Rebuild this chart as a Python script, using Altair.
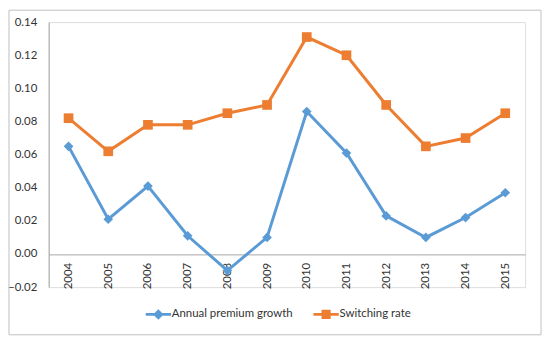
import altair as alt
import pandas as pd

years = ["2004", "2005", "2006", "2007", "2008", "2009", "2010", "2011", "2012", "2013", "2014", "2015"]
premium_growth = [0.065, 0.021, 0.041, 0.011, -0.010, 0.010, 0.086, 0.061, 0.023, 0.010, 0.022, 0.037]
switching_rate = [0.082, 0.062, 0.078, 0.078, 0.085, 0.090, 0.131, 0.120, 0.090, 0.065, 0.070, 0.085]
series_names = ["Annual premium growth", "Switching rate"]
colors = ["#5B9BD5", "#ED7D31"]
y_ticks = [-0.02, 0.0, 0.02, 0.04, 0.06, 0.08, 0.10, 0.12, 0.14]

rows = []
for i, y in enumerate(years):
    rows.append({"year": y, "series": series_names[0], "value": premium_growth[i]})
    rows.append({"year": y, "series": series_names[1], "value": switching_rate[i]})
df = pd.DataFrame(rows)

FONT = "Lato"
W, H = 480, 267

x_enc = alt.X("year:O", sort=years,
              scale=alt.Scale(type="point", padding=0.5),
              axis=alt.Axis(title=None, labelAngle=-90, labelAlign="right", labelBaseline="middle",
                            ticks=False, domainColor="#A6A6A6", domainWidth=1, labelPadding=8,
                            offset=-33, labelFontSize=11.5, labelColor="#333333", labelFont=FONT,
                            grid=False))
y_enc = alt.Y("value:Q",
              scale=alt.Scale(domain=[-0.02, 0.14], nice=False, zero=False),
              axis=alt.Axis(title=None, values=y_ticks, format=".2f", ticks=False,
                            domainColor="#A6A6A6", domainWidth=1, labelPadding=12,
                            labelFontSize=11.5, labelColor="#333333", labelFont=FONT, grid=False))
color_enc = alt.Color("series:N", scale=alt.Scale(domain=series_names, range=colors), legend=None)

lines = alt.Chart(df).mark_line(strokeWidth=3).encode(x=x_enc, y=y_enc, color=color_enc)

points = alt.Chart(df).mark_point(filled=True, opacity=1, size=95).encode(
    x=x_enc, y=y_enc, color=color_enc,
    shape=alt.Shape("series:N", scale=alt.Scale(domain=series_names, range=["diamond", "square"]), legend=None),
)

legend_paths = [
    "M-1.8,-0.2H1.8V0.2H-1.8Z M0,-0.75L0.75,0L0,0.75L-0.75,0Z",
    "M-1.8,-0.2H1.8V0.2H-1.8Z M-0.65,-0.65H0.65V0.65H-0.65Z",
]
legend_props = dict(title=None, orient="none", direction="horizontal",
                    legendX=103, legendY=287, symbolSize=200, symbolOpacity=1,
                    symbolStrokeWidth=0, labelFontSize=11.5, labelFont=FONT,
                    labelColor="#333333", labelOffset=6, columnPadding=20)
legend_layer = alt.Chart(df).mark_point(filled=True, opacity=0, size=95).encode(
    x=x_enc, y=y_enc,
    color=alt.Color("series:N", scale=alt.Scale(domain=series_names, range=colors),
                    legend=alt.Legend(**legend_props)),
    shape=alt.Shape("series:N", scale=alt.Scale(domain=series_names, range=legend_paths),
                    legend=alt.Legend(**legend_props)),
)

border = alt.Chart(alt.Data(values=[{}])).mark_rect(filled=False, stroke="#BFBFBF", strokeWidth=1).encode(
    x=alt.value(-40), x2=alt.value(496), y=alt.value(-12), y2=alt.value(315)
)

chart = alt.layer(border, lines, points, legend_layer).resolve_scale(
    shape="independent", color="independent"
).properties(
    width=W, height=H,
    autosize=alt.AutoSizeParams(type="none"),
    padding={"left": 41, "top": 13, "right": 17, "bottom": 49},
).configure_view(stroke=None).configure(background="white")

chart.save("out.html", embed_options={"renderer": "svg", "actions": False})
